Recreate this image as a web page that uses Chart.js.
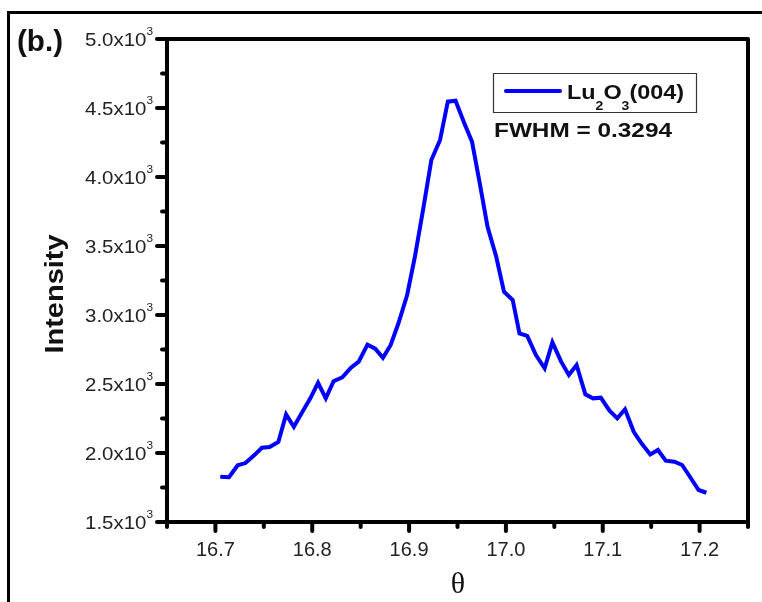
<!DOCTYPE html>
<html>
<head>
<meta charset="utf-8">
<script src="https://cdn.jsdelivr.net/npm/chart.js@4.4.1/dist/chart.umd.min.js"></script>
<style>
  html, body { margin: 0; padding: 0; background: #fff; }
  #wrap { width: 762px; height: 602px; }
</style>
</head>
<body>
<div id="wrap"><canvas id="c" width="762" height="602"></canvas></div>
<script>
// Diffraction angle θ and measured intensity of the Lu2O3 (004) reflection
const theta = [
  16.705, 16.714, 16.723, 16.731, 16.740, 16.748, 16.756, 16.765, 16.773, 16.781,
  16.789, 16.798, 16.806, 16.814, 16.822, 16.831, 16.840, 16.848, 16.857, 16.865,
  16.873, 16.881, 16.889, 16.898, 16.906, 16.915, 16.923, 16.932, 16.940, 16.948,
  16.957, 16.965, 16.973, 16.981, 16.990, 16.998, 17.007, 17.014, 17.022, 17.031,
  17.040, 17.048, 17.057, 17.065, 17.073, 17.082, 17.090, 17.098, 17.107, 17.115,
  17.123, 17.132, 17.140, 17.149, 17.157, 17.165, 17.174, 17.182, 17.190, 17.199,
  17.207
];
const intensity = [
  1828, 1824, 1911, 1927, 1983, 2038, 2043, 2080, 2280, 2190,
  2288, 2396, 2509, 2396, 2520, 2549, 2618, 2662, 2785, 2756,
  2690, 2783, 2940, 3145, 3422, 3785, 4123, 4268, 4546, 4553,
  4389, 4256, 3954, 3640, 3422, 3169, 3109, 2867, 2848, 2710,
  2614, 2802, 2662, 2565, 2638, 2425, 2396, 2401, 2307, 2251,
  2317, 2154, 2070, 1990, 2022, 1944, 1937, 1913, 1828, 1732,
  1712
];

// Axis ranges and tick positions
const xRange = [16.65, 17.25];
const yRange = [1500, 5000];
const xMajorTicks = [16.7, 16.8, 16.9, 17.0, 17.1, 17.2];
const xMinorTicks = [16.65, 16.75, 16.85, 16.95, 17.05, 17.15, 17.25];
const yMajorTicks = [1500, 2000, 2500, 3000, 3500, 4000, 4500, 5000];
const yMinorTicks = [1750, 2250, 2750, 3250, 3750, 4250, 4750];

const seriesName = ['Lu', '2', 'O', '3', '(004)'];
const fwhmText = 'FWHM = 0.3294';

// Draw a sequence of text runs (font, vertical offset) with an optional width fit
function drawRuns(ctx, parts, x, y, align, fit) {
  const widths = parts.map(p => { ctx.font = p.font; return ctx.measureText(p.t).width; });
  const natural = widths.reduce((a, b) => a + b, 0);
  const sx = fit ? fit / natural : 1;
  const total = natural * sx;
  const start = align === 'right' ? x - total : align === 'center' ? x - total / 2 : x;
  ctx.save();
  ctx.translate(start, y);
  ctx.scale(sx, 1);
  ctx.textAlign = 'left';
  ctx.textBaseline = 'alphabetic';
  let cx = 0;
  parts.forEach((p, i) => {
    ctx.font = p.font;
    ctx.fillText(p.t, cx, p.dy || 0);
    cx += widths[i];
  });
  ctx.restore();
}

const sans = '"Liberation Sans", Arial, sans-serif';

const framePlugin = {
  id: 'frame',
  afterDraw(chart) {
    const ctx = chart.ctx;
    const xs = chart.scales.x, ys = chart.scales.y;
    const a = chart.chartArea;
    ctx.save();

    // outer figure frame
    ctx.strokeStyle = '#000';
    ctx.lineWidth = 3;
    ctx.beginPath();
    ctx.moveTo(8.5, 602);
    ctx.lineTo(8.5, 12.5);
    ctx.lineTo(762, 12.5);
    ctx.stroke();

    // axis box
    ctx.lineWidth = 4;
    ctx.lineJoin = 'round';
    ctx.strokeRect(a.left, a.top, a.right - a.left, a.bottom - a.top);

    // tick marks
    ctx.lineCap = 'round';
    yMajorTicks.forEach(v => {
      const py = ys.getPixelForValue(v);
      ctx.beginPath(); ctx.moveTo(a.left, py); ctx.lineTo(a.left - 10, py); ctx.stroke();
    });
    yMinorTicks.forEach(v => {
      const py = ys.getPixelForValue(v);
      ctx.beginPath(); ctx.moveTo(a.left, py); ctx.lineTo(a.left - 5, py); ctx.stroke();
    });
    xMajorTicks.forEach(v => {
      const px = xs.getPixelForValue(v);
      ctx.beginPath(); ctx.moveTo(px, a.bottom); ctx.lineTo(px, a.bottom + 9); ctx.stroke();
    });
    xMinorTicks.forEach(v => {
      const px = xs.getPixelForValue(v);
      ctx.beginPath(); ctx.moveTo(px, a.bottom); ctx.lineTo(px, a.bottom + 5); ctx.stroke();
    });

    // tick labels
    ctx.fillStyle = '#222';
    yMajorTicks.forEach(v => {
      const py = ys.getPixelForValue(v);
      const m = (v / 1000).toFixed(1);
      drawRuns(ctx, [
        { t: m + 'x10', font: '19px ' + sans },
        { t: '3', font: '11px ' + sans, dy: -11 }
      ], 153, py + 7, 'right', 68);
    });
    xMajorTicks.forEach(v => {
      const px = xs.getPixelForValue(v);
      drawRuns(ctx, [{ t: v.toFixed(1), font: '20px ' + sans }], px, 556, 'center');
    });

    // axis titles
    ctx.fillStyle = '#111';
    ctx.save();
    ctx.translate(63, 294);
    ctx.rotate(-Math.PI / 2);
    drawRuns(ctx, [{ t: 'Intensity', font: 'bold 26px ' + sans }], 0, 0, 'center', 119);
    ctx.restore();
    drawRuns(ctx, [{ t: 'θ', font: '30px "Liberation Serif", "DejaVu Serif", serif' }], 458, 593, 'center');

    // panel label
    drawRuns(ctx, [{ t: '(b.)', font: 'bold 30px ' + sans }], 17, 51, 'left', 46);

    // legend box
    ctx.strokeStyle = '#333';
    ctx.lineWidth = 1.2;
    ctx.strokeRect(493.5, 73.5, 203, 39);
    ctx.strokeStyle = '#0000ff';
    ctx.lineWidth = 4;
    ctx.lineCap = 'round';
    ctx.beginPath(); ctx.moveTo(506, 91); ctx.lineTo(560, 91); ctx.stroke();
    ctx.fillStyle = '#111';
    drawRuns(ctx, [
      { t: seriesName[0], font: 'bold 20px ' + sans },
      { t: seriesName[1], font: 'bold 12px ' + sans, dy: 11 },
      { t: seriesName[2], font: 'bold 20px ' + sans },
      { t: seriesName[3], font: 'bold 12px ' + sans, dy: 11 },
      { t: seriesName[4], font: 'bold 20px ' + sans }
    ], 567, 99, 'left', 117);

    drawRuns(ctx, [{ t: fwhmText, font: 'bold 20px ' + sans }], 494, 137, 'left', 178);

    ctx.restore();
  }
};

new Chart(document.getElementById('c'), {
  type: 'line',
  data: {
    datasets: [{
      label: 'Lu2O3(004)',
      data: theta.map((t, i) => ({ x: t, y: intensity[i] })),
      borderColor: '#0000ff',
      borderWidth: 4,
      pointRadius: 0,
      tension: 0,
      fill: false
    }]
  },
  options: {
    responsive: false,
    animation: false,
    layout: { padding: { left: 167, top: 39, right: 14, bottom: 80 } },
    plugins: { legend: { display: false }, tooltip: { enabled: false }, title: { display: false } },
    scales: {
      x: { type: 'linear', min: xRange[0], max: xRange[1], display: false },
      y: { type: 'linear', min: yRange[0], max: yRange[1], display: false }
    }
  },
  plugins: [framePlugin]
});
</script>
</body>
</html>
